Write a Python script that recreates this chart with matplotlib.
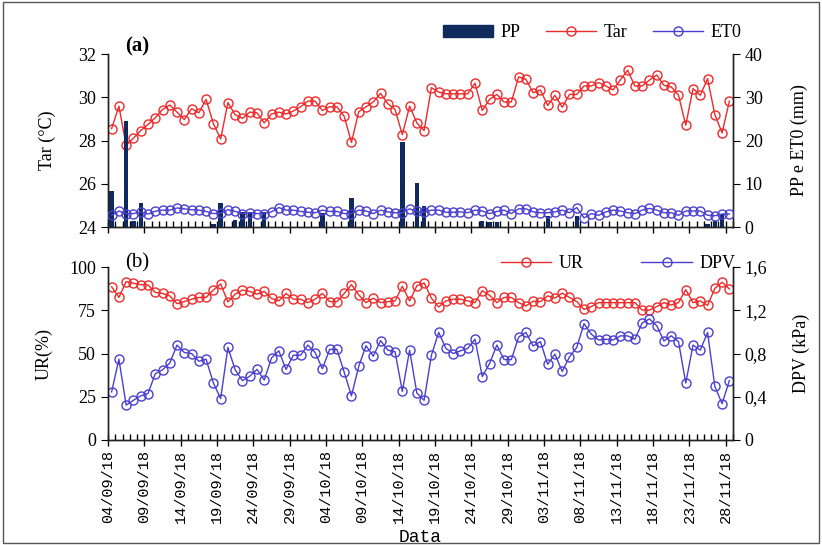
import numpy as np
import pandas as pd
import matplotlib
matplotlib.use("Agg")
import matplotlib.pyplot as plt
from matplotlib.lines import Line2D
from matplotlib.patches import Patch, Rectangle
from matplotlib.ticker import FuncFormatter, MultipleLocator

plt.rcParams['font.family'] = ['Liberation Serif', 'DejaVu Serif']

# Daily series, 04/09/18 to 28/11/18
dates = pd.date_range("2018-09-04", periods=86, freq="D")

tar = [28.55, 29.59, 27.77, 28.11, 28.46, 28.74, 29.05, 29.43, 29.64, 29.31,
       28.97, 29.47, 29.28, 29.90, 28.78, 28.07, 29.75, 29.19, 29.02, 29.31,
       29.28, 28.81, 29.23, 29.31, 29.23, 29.36, 29.56, 29.82, 29.82, 29.39,
       29.56, 29.56, 29.12, 27.91, 29.33, 29.56, 29.78, 30.18, 29.70, 29.43,
       28.27, 29.59, 28.81, 28.46, 30.44, 30.24, 30.16, 30.16, 30.16, 30.16,
       30.65, 29.39, 29.90, 30.13, 29.78, 29.78, 30.94, 30.83, 30.21, 30.34,
       29.62, 30.09, 29.54, 30.13, 30.13, 30.52, 30.52, 30.68, 30.52, 30.34,
       30.80, 31.25, 30.52, 30.52, 30.79, 31.03, 30.55, 30.48, 30.10, 28.71,
       30.40, 30.09, 30.86, 29.20, 28.35, 29.82]

et0 = [2.7, 3.7, 3.1, 3.1, 3.5, 3.0, 3.65, 3.9, 3.9, 4.4,
       4.2, 4.0, 3.9, 3.6, 3.1, 3.2, 4.0, 3.6, 3.1, 3.3,
       3.1, 3.1, 3.5, 4.5, 3.9, 3.9, 3.6, 3.4, 3.3, 3.9,
       3.6, 3.6, 3.1, 3.1, 3.9, 3.7, 3.1, 3.9, 3.5, 3.3,
       3.3, 4.2, 3.6, 3.4, 3.9, 3.9, 3.4, 3.4, 3.5, 3.3,
       3.9, 3.7, 3.1, 3.6, 3.9, 3.1, 4.2, 4.2, 3.5, 3.3,
       3.3, 3.5, 3.9, 3.3, 4.5, 2.1, 3.1, 2.7, 3.5, 3.9,
       3.7, 3.3, 3.1, 3.9, 4.3, 3.9, 3.3, 3.3, 2.7, 3.7,
       3.7, 3.7, 2.7, 2.6, 3.0, 3.0]

pp = [8.4, 0, 24.5, 1.5, 5.6, 0, 0, 0, 0, 0,
      0, 0, 0, 0, 0.7, 5.6, 0, 1.7, 3.5, 3.5,
      0, 3.5, 0, 0, 0, 0, 0, 0, 0, 3.2,
      0, 0, 0, 6.6, 0, 0, 0, 0, 0, 0,
      19.6, 0, 10.1, 4.9, 0, 0, 0, 0, 0, 0,
      0, 1.5, 1.2, 1.2, 0, 0, 0, 0, 0, 0,
      2.6, 0, 0, 0, 2.6, 0, 0, 0, 0, 0,
      0, 0, 0, 0, 0, 0, 0, 0, 0, 0,
      0, 0, 0.8, 1.5, 3.1, 0]

ur = [88.6, 82.4, 91.6, 90.6, 89.8, 89.6, 85.3, 84.7, 83.3, 78.8,
      80.0, 81.4, 82.4, 82.4, 86.7, 90.2, 79.8, 84.3, 86.7, 85.9,
      84.3, 85.9, 81.8, 80.4, 84.7, 81.4, 81.4, 79.4, 81.4, 84.7,
      80.0, 80.0, 84.7, 89.8, 83.9, 79.4, 82.0, 79.4, 80.0, 80.4,
      88.8, 80.4, 89.2, 90.8, 82.0, 76.9, 80.4, 81.4, 81.4, 80.4,
      79.4, 86.3, 83.7, 79.4, 82.4, 82.4, 79.4, 77.5, 80.2, 80.0,
      83.3, 82.0, 84.9, 82.4, 80.0, 75.5, 77.1, 79.4, 79.4, 79.4,
      79.4, 79.4, 79.4, 75.1, 75.1, 77.1, 79.4, 78.0, 79.4, 86.9,
      79.4, 80.4, 77.8, 87.6, 91.2, 87.3]

dpv = [0.445, 0.747, 0.323, 0.367, 0.408, 0.430, 0.612, 0.649, 0.712, 0.878,
       0.809, 0.800, 0.728, 0.747, 0.527, 0.383, 0.856, 0.649, 0.549, 0.590,
       0.653, 0.555, 0.759, 0.825, 0.653, 0.784, 0.784, 0.878, 0.809, 0.659,
       0.838, 0.838, 0.627, 0.408, 0.681, 0.872, 0.775, 0.919, 0.831, 0.816,
       0.449, 0.831, 0.433, 0.367, 0.784, 0.995, 0.847, 0.800, 0.825, 0.847,
       0.932, 0.587, 0.706, 0.878, 0.744, 0.744, 0.951, 0.995, 0.870, 0.910,
       0.700, 0.794, 0.634, 0.769, 0.856, 1.076, 0.979, 0.925, 0.932, 0.925,
       0.963, 0.963, 0.932, 1.082, 1.120, 1.057, 0.916, 0.963, 0.910, 0.527,
       0.878, 0.831, 0.995, 0.496, 0.336, 0.549]

red = "#ee2a2a"
blue = "#4a3fd0"
navy = "#0f2a5c"

x = np.arange(len(dates)) + 0.5
W, H = 822, 545
fig = plt.figure(figsize=(W / 100, H / 100), dpi=100)

left, right = 108 / W, 733 / W
ax1 = fig.add_axes([left, 1 - 227 / H, right - left, 173 / H])
ax2 = fig.add_axes([left, 1 - 440 / H, right - left, 173 / H])

mk = dict(marker="o", markersize=6.5, markerfacecolor="none", markeredgewidth=1.0, linewidth=1.0)


def style_axes(ax, axr):
    ax.set_xlim(0, len(dates))
    ax.set_xticks(np.arange(0, len(dates), 5))
    ax.xaxis.set_minor_locator(MultipleLocator(1))
    ax.tick_params(axis="x", which="major", direction="inout", length=8, width=1)
    ax.tick_params(axis="x", which="minor", direction="in", length=4, width=1)
    ax.tick_params(axis="y", direction="out", length=5, labelsize=13)
    axr.tick_params(axis="y", direction="out", length=5, labelsize=13)
    for a in (ax, axr):
        a.spines["top"].set_visible(False)
        for s in ("left", "right", "bottom"):
            a.spines[s].set_linewidth(1.0)
            a.spines[s].set_color("#222222")


# panel (a)
ax1r = ax1.twinx()
ax1r.bar(x, pp, width=0.6, color=navy, zorder=2)
ax1r.plot(x, et0, color=blue, zorder=3, **mk)
ax1.plot(x, tar, color=red, **mk)
ax1.set_ylim(24, 32)
ax1.set_yticks([24, 26, 28, 30, 32])
ax1r.set_ylim(0, 40)
ax1r.set_yticks([0, 10, 20, 30, 40])
style_axes(ax1, ax1r)
ax1.set_xticklabels([])
ax1.set_ylabel("Tar (°C)", fontsize=13, labelpad=16)
ax1r.set_ylabel("PP e ET0 (mm)", fontsize=13, labelpad=20)
ax1.text(0.027, 1.10, "(a)", transform=ax1.transAxes, fontsize=15, fontweight="bold", va="top")

h_a = [Patch(color=navy), Line2D([], [], color=red, **mk), Line2D([], [], color=blue, **mk)]
fig.legend(h_a, ["PP", "Tar", "ET0"], loc="center", bbox_to_anchor=(592 / W, 1 - 33 / H),
           ncol=3, frameon=False, fontsize=13, handlelength=2.8, columnspacing=1.4,
           handletextpad=0.4)

# panel (b)
ax2r = ax2.twinx()
ax2.plot(x, ur, color=red, **mk)
ax2r.plot(x, dpv, color=blue, **mk)
ax2.set_ylim(0, 100)
ax2.set_yticks([0, 25, 50, 75, 100])
ax2r.set_ylim(0, 1.6)
ax2r.set_yticks([0, 0.4, 0.8, 1.2, 1.6])
ax2r.yaxis.set_major_formatter(FuncFormatter(lambda v, p: "0" if v == 0 else f"{v:.1f}".replace(".", ",")))
style_axes(ax2, ax2r)
ax2.set_xticklabels([d.strftime("%d/%m/%y") for d in dates[::5]], rotation=90,
                    fontsize=11, family=["Liberation Mono", "DejaVu Sans Mono"])
ax2.set_xlabel("Data", fontsize=13, family=["Liberation Mono", "DejaVu Sans Mono"], labelpad=4)
ax2.set_ylabel("UR(%)", fontsize=13, labelpad=12)
ax2r.set_ylabel("DPV (kPa)", fontsize=13, labelpad=18)
ax2.text(0.027, 1.08, "(b)", transform=ax2.transAxes, fontsize=15, va="top")

h_b = [Line2D([], [], color=red, **mk), Line2D([], [], color=blue, **mk)]
fig.legend(h_b, ["UR", "DPV"], loc="center", bbox_to_anchor=(618 / W, 1 - 264 / H),
           ncol=2, frameon=False, fontsize=13, handlelength=2.8, columnspacing=3.2,
           handletextpad=0.4)

fig.patches.append(Rectangle((0.004, 0.004), 0.992, 0.992, transform=fig.transFigure,
                             fill=False, edgecolor="#555555", linewidth=1.0))

fig.savefig("out.png", dpi=100)
